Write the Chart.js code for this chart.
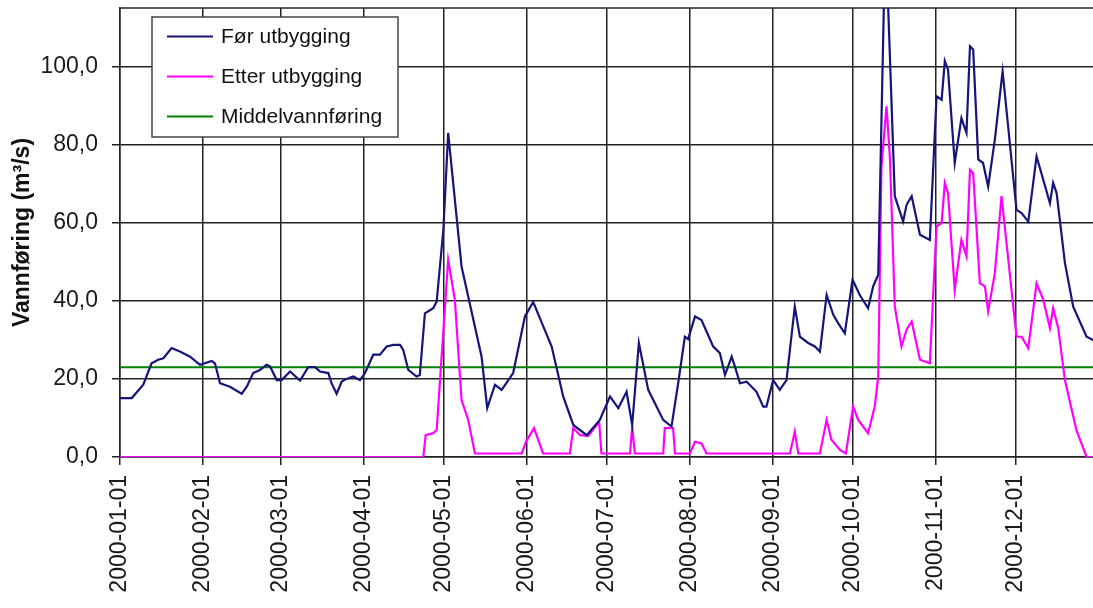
<!DOCTYPE html>
<html>
<head>
<meta charset="utf-8">
<title>Vannføring 2000</title>
<script src="https://cdn.jsdelivr.net/npm/chart.js@4.4.1/dist/chart.umd.min.js"></script>
<style>
  html, body { margin: 0; padding: 0; background: #fff; }
  canvas { display: block; }
</style>
</head>
<body>
<canvas id="flowChart" width="1093" height="608"></canvas>
<script>
// ================= DATA =================
// x = day of year 2000 (0 = 2000-01-01)

const monthDays = [0, 31, 60, 91, 121, 152, 182, 213, 244, 274, 305, 335];
const monthLabels = [
    '2000-01-01', '2000-02-01', '2000-03-01', '2000-04-01',
    '2000-05-01', '2000-06-01', '2000-07-01', '2000-08-01',
    '2000-09-01', '2000-10-01', '2000-11-01', '2000-12-01'
];

const seriesNames = ['Før utbygging', 'Etter utbygging', 'Middelvannføring'];

const foerDays = [
    0, 4.4, 8.7, 11.8, 14.3, 16.2, 19.3, 22.4, 26.2, 29.9, 34.3, 35.5, 37.4, 41.1, 45.5, 47.4,
    49.8, 52.3, 54.8, 56.1, 58.6, 60.4, 63.6, 67.3, 70.4, 72.9, 74.8, 77.9, 79.1, 81, 82.9, 84.7,
    87.2, 89.7, 91.6, 94.7, 97.2, 99.7, 102.2, 104.7, 105.9, 107.8, 110.9, 112.1, 114, 117.1, 118.4,
    120.9, 122.7, 125.2, 127.7, 130.2, 135.2, 137.3, 140.2, 142.7, 147, 151.4, 154.5, 158.3, 161.4,
    165.7, 169.5, 174.5, 179.4, 183.2, 186.3, 189.4, 191.5, 194, 197.5, 203.1, 206.2, 208.7, 211.2,
    212.4, 215, 217.4, 221.8, 224.3, 226.2, 228.7, 229.9, 231.8, 234.3, 238, 240.5, 241.7, 244.2,
    246.7, 249.2, 252.3, 254.2, 257.3, 259.8, 261.7, 264.2, 266.7, 268.5, 271, 273.9, 276.6, 279.7,
    281.6, 283.5, 286.2, 289.7, 292.8, 294.1, 296, 299.1, 302.8, 305.3, 307.2, 308.4, 309.6, 312.1,
    314.6, 316.5, 317.8, 319, 320.9, 322.7, 324.6, 327.1, 330, 335.2, 337.1, 339.6, 342.7, 345.2,
    347.7, 348.9, 350.2, 353.3, 356.4, 361.4, 363.7, 365
];
const foerFlow = [
    15.1, 15.1, 18.5, 24.0, 24.9, 25.3, 27.9, 27.0, 25.7, 23.6, 24.6, 24.0, 18.9, 18.0, 16.2, 18.0,
    21.5, 22.3, 23.6, 23.2, 19.7, 19.7, 21.9, 19.6, 23.0, 23.0, 21.9, 21.5, 18.9, 16.2, 19.3, 20.0,
    20.6, 19.7, 21.5, 26.2, 26.2, 28.3, 28.7, 28.7, 27.4, 22.3, 20.6, 21.0, 36.8, 38.1, 39.8,
    58.2, 83.0, 65.9, 48.8, 41.1, 25.7, 12.5, 18.5, 17.2, 21.5, 36.0, 39.7, 33.4, 28.3,
    15.5, 8.2, 5.6, 9.5, 15.5, 12.5, 16.7, 8.2, 29.2, 17.2, 9.5, 7.8, 18.9, 30.8,
    30.2, 36.0, 35.1, 28.3, 26.6, 21.0, 25.7, 23.2, 18.9, 19.3, 16.7, 12.9, 12.9, 19.7,
    17.2, 19.7, 38.5, 30.8, 29.2, 28.3, 27.0, 41.5, 36.4, 34.3, 31.7, 45.4, 41.5, 38.1,
    43.7, 46.7, 135.0, 66.8, 60.3, 64.6, 66.8, 56.9, 55.6, 92.4, 91.5, 101.4, 99.2, 75.3,
    86.8, 83.0, 105.2, 104.4, 76.2, 75.3, 69.3, 81.3, 98.8, 63.3, 62.5, 60.3, 77.0, 71.0,
    65.0, 70.2, 67.6, 49.7, 38.5, 30.8, 30.0, 29.5
];

const etterDays = [
    0, 113.4, 114.3, 117.1, 118.4, 122.7, 125.2, 127.7, 130.2, 132.7, 150.2, 151.8, 154.8, 158.2,
    168.2, 169.5, 172, 175.1, 178.2, 179.2, 180, 190.7, 191.5, 192.5, 203.1, 203.7, 206.8, 207.5,
    213.1, 215, 217.4, 219.3, 250.5, 252.3, 253.6, 261.7, 264.2, 266, 269.2, 271.4, 274.1, 276,
    279.7, 282.2, 283.5, 284.7, 286.6, 287.9, 289.7, 292.2, 294.1, 296, 299.1, 302.8, 305.3, 307.2,
    308.4, 309.6, 312.1, 314.6, 316.5, 317.8, 319, 321.5, 323.4, 324.6, 327.1, 329.6, 335.2, 337.1,
    339.6, 342.7, 345.2, 347.7, 348.9, 350.8, 353.3, 357.6, 361.4, 365
];
const etterFlow = [
    0, 0, 5.6, 6.1, 6.9, 50.5, 40.3, 14.6, 9.5, 0.9, 0.9, 3.9, 7.4, 0.9,
    0.9, 7.4, 5.6, 5.4, 8.2, 8.6, 0.9, 0.9, 7.8, 0.9, 0.9, 7.4, 7.4, 0.9,
    0.9, 3.9, 3.5, 0.9, 0.9, 6.5, 0.9, 0.9, 9.5, 4.4, 1.8, 0.9, 12.9, 9.5,
    6.1, 12.9, 20.6, 74.4, 89.8, 76.2, 38.5, 28.3, 32.6, 34.7, 24.9, 24.0, 59.1, 59.9,
    70.2, 67.6, 42.8, 55.6, 51.4, 73.6, 72.7, 44.5, 43.7, 37.3, 47.1, 66.8, 30.8, 30.8,
    27.9, 44.5, 40.3, 33.0, 38.1, 33.0, 19.7, 6.9, 0, 0
];

const middelDays = [0, 365];
const middelFlow = [23.0, 23.0];

const zip = (xs, ys) => xs.map((x, i) => ({ x: x, y: ys[i] }));

// ================= PLUGINS =================

// top border of the plot box
const plotFrame = {
    id: 'plotFrame',
    beforeDatasetsDraw(chart) {
        const a = chart.chartArea;
        const ctx = chart.ctx;
        ctx.save();
        ctx.strokeStyle = '#222';
        ctx.lineWidth = 1.5;
        ctx.beginPath();
        ctx.moveTo(a.left, a.top);
        ctx.lineTo(a.right, a.top);
        ctx.stroke();
        ctx.restore();
    }
};

// legend box sits inside the plot, top left
const legendBox = {
    id: 'legendBox',
    afterDraw(chart) {
        const ctx = chart.ctx;
        ctx.save();
        ctx.fillStyle = '#fff';
        ctx.strokeStyle = '#444';
        ctx.lineWidth = 1.5;
        ctx.fillRect(152, 17, 246, 120);
        ctx.strokeRect(152, 17, 246, 120);
        ctx.font = "21px 'Liberation Sans', Arial, sans-serif";
        ctx.textBaseline = 'middle';
        chart.data.datasets.forEach((ds, i) => {
            const y = 36.5 + i * 40;
            ctx.strokeStyle = ds.borderColor;
            ctx.lineWidth = 2;
            ctx.beginPath();
            ctx.moveTo(167, y);
            ctx.lineTo(213, y);
            ctx.stroke();
            ctx.fillStyle = '#111';
            ctx.fillText(ds.label, 221, y + 1);
        });
        ctx.restore();
    }
};

// ================= CHART =================

Chart.defaults.font.family = "'Liberation Sans', Arial, sans-serif";
Chart.defaults.color = '#1a1a1a';

const ctx = document.getElementById('flowChart').getContext('2d');

const flowChart = new Chart(ctx, {
    type: 'line',
    data: {
        datasets: [
            {
                label: seriesNames[0],
                data: zip(foerDays, foerFlow),
                borderColor: '#14147a',
                borderWidth: 2.2
            },
            {
                label: seriesNames[1],
                data: zip(etterDays, etterFlow),
                borderColor: '#ff00ff',
                borderWidth: 2.2
            },
            {
                label: seriesNames[2],
                data: zip(middelDays, middelFlow),
                borderColor: '#008000',
                borderWidth: 2
            }
        ]
    },
    options: {
        responsive: false,
        animation: false,
        devicePixelRatio: 1,
        layout: { padding: { top: 8, right: 0, bottom: 0, left: 0 } },
        elements: {
            point: { radius: 0 },
            line: { tension: 0 }
        },
        plugins: {
            legend: { display: false },
            tooltip: { enabled: false }
        },
        scales: {
            x: {
                type: 'linear',
                min: 0,
                max: 363.8,
                afterBuildTicks: scale => {
                    scale.ticks = monthDays.map(d => ({ value: d }));
                },
                afterFit: scale => {
                    scale.height = 151;
                    scale.paddingLeft = 0;
                    scale.paddingRight = 0;
                },
                ticks: {
                    autoSkip: false,
                    minRotation: 90,
                    maxRotation: 90,
                    padding: 10,
                    font: { size: 23 },
                    callback: value => monthLabels[monthDays.indexOf(value)]
                },
                grid: {
                    color: '#222',
                    lineWidth: 1.5,
                    tickLength: 8
                },
                border: { color: '#222', width: 1.5 }
            },
            y: {
                min: 0,
                max: 115,
                afterFit: scale => {
                    scale.width = 120;
                    scale.paddingTop = 0;
                    scale.paddingBottom = 0;
                },
                ticks: {
                    stepSize: 20,
                    includeBounds: false,
                    padding: 14,
                    font: { size: 23 },
                    callback: value => value.toFixed(1).replace('.', ',')
                },
                grid: {
                    color: '#222',
                    lineWidth: 1.5,
                    tickLength: 8
                },
                border: { color: '#222', width: 1.5 },
                title: {
                    display: true,
                    text: 'Vannføring (m³/s)',
                    color: '#111',
                    font: { size: 23, weight: 'bold' },
                    padding: { top: 9, bottom: 0 }
                }
            }
        }
    },
    plugins: [plotFrame, legendBox]
});
</script>
</body>
</html>
